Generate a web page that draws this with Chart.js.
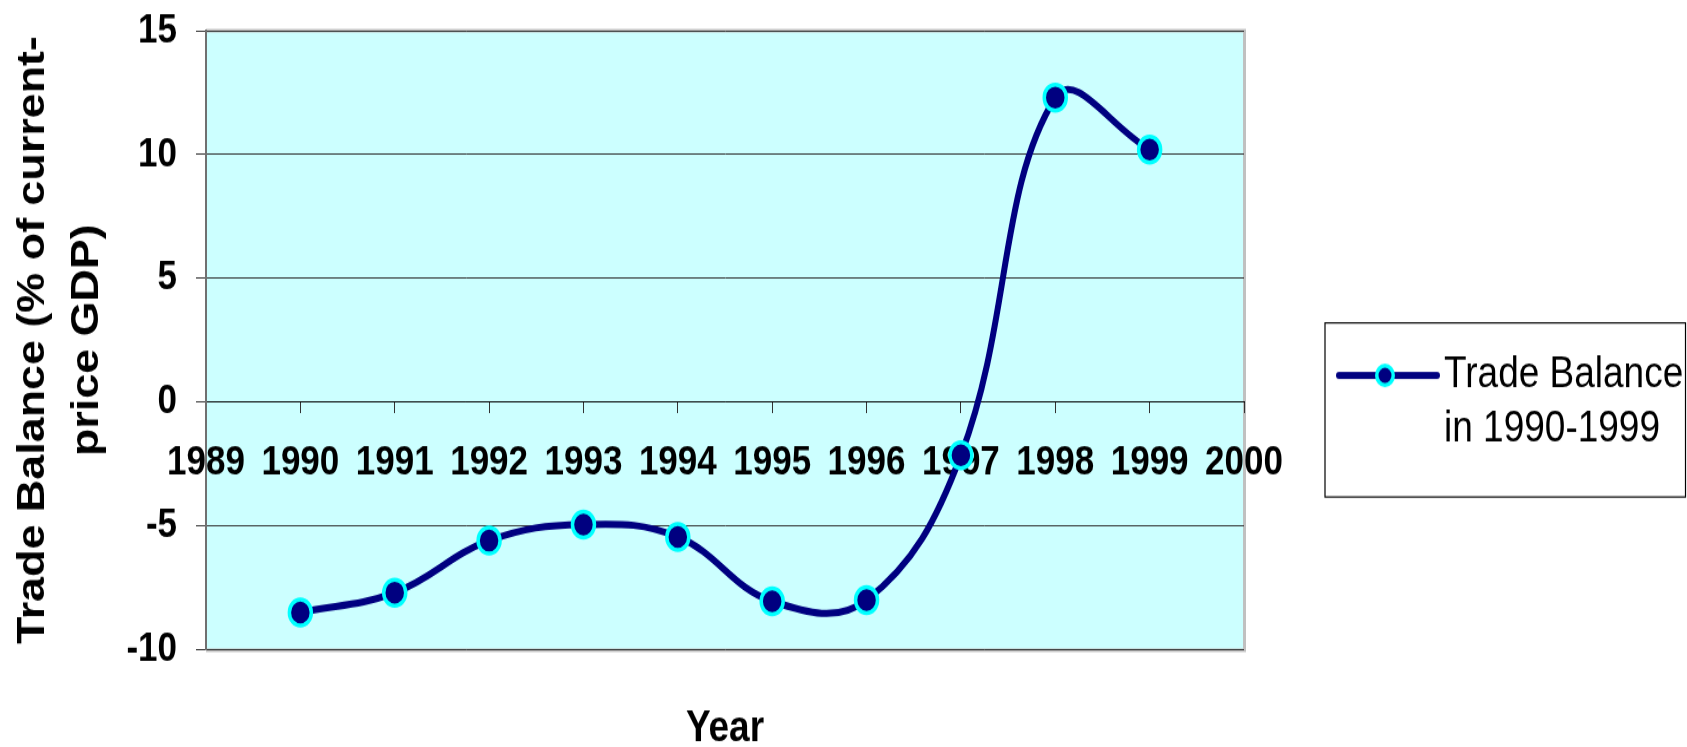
<!DOCTYPE html>
<html>
<head>
<meta charset="utf-8">
<script src="https://cdn.jsdelivr.net/npm/chart.js@4/dist/chart.umd.min.js"></script>
<style>
  html, body { margin: 0; padding: 0; background: #fff; }
</style>
</head>
<body>
<!-- the original chart is stretched vertically, so the canvas is drawn short and scaled up -->
<canvas id="chart" width="1687" height="633" style="display:block;width:1687px;height:747px"></canvas>
<script>
const years = [1990, 1991, 1992, 1993, 1994, 1995, 1996, 1997, 1998, 1999];
const balance = [-8.5, -7.7, -5.6, -4.95, -5.45, -8.05, -8.0, -2.15, 12.3, 10.2];
const yearTicks = ['1989', '1990', '1991', '1992', '1993', '1994', '1995', '1996', '1997', '1998', '1999', '2000'];
const seriesLabel = ['Trade Balance', 'in 1990-1999'];
const yTitle = ['Trade Balance (% of current-', 'price GDP)'];

const NAVY = '#000080';
const CYAN = '#00FFFF';

Chart.defaults.font.family = "'Liberation Sans', Arial, sans-serif";
Chart.defaults.color = '#000';

// line + dot sample for the legend
const legendMarker = document.createElement('canvas');
legendMarker.width = 104;
legendMarker.height = 24;
(function () {
  const c = legendMarker.getContext('2d');
  c.strokeStyle = NAVY;
  c.lineWidth = 6;
  c.lineCap = 'round';
  c.beginPath();
  c.moveTo(3, 12);
  c.lineTo(101, 12);
  c.stroke();
  c.beginPath();
  c.arc(49, 12, 8.25, 0, Math.PI * 2);
  c.fillStyle = NAVY;
  c.fill();
  c.strokeStyle = CYAN;
  c.lineWidth = 3.5;
  c.stroke();
})();

const plotFrame = {
  id: 'plotFrame',
  beforeDraw(chart) {
    const { ctx, chartArea: a } = chart;
    ctx.save();
    ctx.fillStyle = '#CCFFFF';
    ctx.fillRect(a.left, a.top, a.right - a.left, a.bottom - a.top);
    ctx.strokeStyle = '#C0C0C0';
    ctx.lineWidth = 3;
    ctx.beginPath();
    ctx.moveTo(a.left, a.top);
    ctx.lineTo(a.right + 0.5, a.top);
    ctx.lineTo(a.right + 0.5, a.bottom + 0.5);
    ctx.lineTo(a.left, a.bottom + 0.5);
    ctx.stroke();
    ctx.restore();
  },
  afterDraw(chart) {
    const hb = chart.legend && chart.legend.legendHitBoxes && chart.legend.legendHitBoxes[0];
    if (!hb) return;
    const ctx = chart.ctx;
    ctx.save();
    ctx.strokeStyle = '#000';
    ctx.lineWidth = 1.2;
    const left = hb.left - 25.5;
    const top = hb.top - 26;
    ctx.strokeRect(left, top, chart.width - 1.5 - left, 147.5);
    ctx.restore();
  }
};

new Chart(document.getElementById('chart'), {
  type: 'line',
  data: {
    datasets: [{
      label: seriesLabel.join(' '),
      data: years.map((yr, i) => ({ x: yr, y: balance[i] })),
      borderColor: NAVY,
      borderWidth: 6,
      tension: 0.4,
      pointRadius: 11,
      pointHoverRadius: 11,
      pointBorderWidth: 3.5,
      pointBackgroundColor: NAVY,
      pointBorderColor: CYAN
    }]
  },
  options: {
    responsive: false,
    animation: false,
    devicePixelRatio: 1,
    layout: { padding: { top: 26, left: 0, right: 0, bottom: 0 } },
    scales: {
      x: {
        type: 'linear',
        position: { y: 0 },
        min: 1989,
        max: 2000,
        ticks: {
          stepSize: 1,
          autoSkip: false,
          maxRotation: 0,
          padding: 22,
          font: { size: 35, weight: 'bold' },
          callback: (value, index) => yearTicks[index]
        },
        grid: { drawOnChartArea: false, drawTicks: true, tickLength: 9, tickColor: '#333' },
        border: { display: true, color: '#000', width: 1 }
      },
      y: {
        min: -10,
        max: 15,
        ticks: {
          stepSize: 5,
          padding: 19,
          font: { size: 35, weight: 'bold', lineHeight: 0.35 }
        },
        grid: { color: '#333', lineWidth: 1, tickLength: 10, tickColor: '#333' },
        border: { display: true, color: '#707070', width: 2 },
        title: {
          display: true,
          text: yTitle,
          font: { size: 38, weight: 'bold', lineHeight: 1.42 },
          padding: { top: 7, bottom: 0 }
        },
        afterFit(scale) { scale.width = 206; }
      }
    },
    plugins: {
      tooltip: { enabled: false },
      title: {
        display: true,
        text: 'Year',
        position: 'bottom',
        fullSize: false,
        font: { size: 37, weight: 'bold', lineHeight: 0.8 },
        padding: { top: 53, bottom: 0 }
      },
      legend: {
        position: 'right',
        maxWidth: 443,
        title: { display: true, text: '', font: { size: 10, lineHeight: 1 }, padding: { top: 22, bottom: 0 } },
        labels: {
          usePointStyle: true,
          pointStyleWidth: 75,
          padding: 106.5,
          color: '#000',
          font: { size: 37, weight: 'normal', lineHeight: 1.24 },
          generateLabels: () => [{
            text: seriesLabel,
            fillStyle: NAVY,
            strokeStyle: NAVY,
            lineWidth: 0,
            pointStyle: legendMarker,
            fontColor: '#000',
            datasetIndex: 0,
            hidden: false
          }]
        }
      }
    }
  },
  plugins: [plotFrame]
});
</script>
</body>
</html>
